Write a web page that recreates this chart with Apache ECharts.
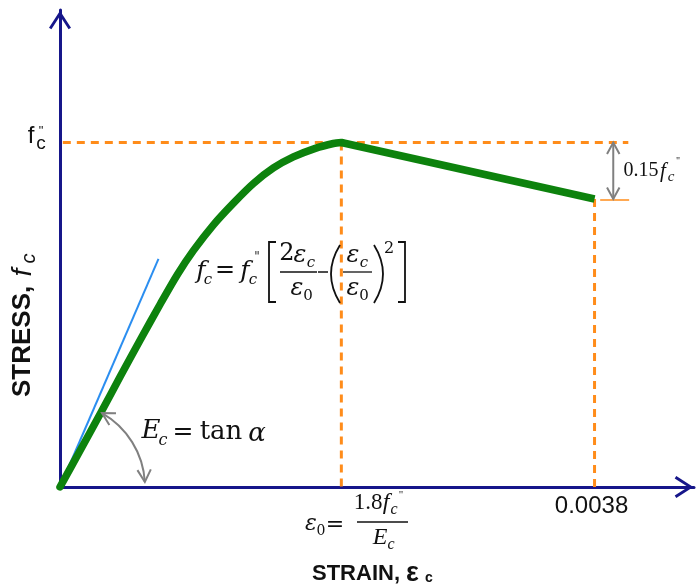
<!DOCTYPE html>
<html><head><meta charset="utf-8">
<script src="https://cdn.jsdelivr.net/npm/echarts@6/dist/echarts.min.js"></script>
<style>html,body{margin:0;padding:0;background:#fff}#c{width:696px;height:585px}</style>
</head><body><div id="c"></div>
<script>
// ---- data (strain, stress as fraction of f"c) ----
const riseStrain = [0, 0.000146, 0.000288, 0.000430, 0.000572, 0.000714, 0.000835, 0.000948, 0.001091, 0.001233, 0.001375, 0.001517, 0.001659, 0.001815, 0.001943, 0.002];
const riseStress = [0, 0.108, 0.214, 0.322, 0.428, 0.532, 0.617, 0.686, 0.761, 0.824, 0.881, 0.926, 0.958, 0.983, 0.997, 1.0];
const fallStrain = [0.002, 0.0038];
const fallStress = [1.0, 0.836];
const tangentStrain = [0, 0.0007];
const tangentStress = [0, 0.662];
const eps0 = 0.002;
const epsU = 0.0038;
const fcPeak = 1.0;
const fcEnd = 0.836;
const xMax = 0.004507;
const yMax = 1.3846;
const xTickLabels = ['0.0038'];

const NAVY = '#16168a', GREEN = '#0d820d', ORANGE = '#ff8c1a', GRAY = '#808080', BLUE = '#2b8ef0', INK = '#111';
const chev = 'path://M11,0 L22,17 L19.6,18.6 L11,5.2 L2.4,18.6 L0,17 Z';
const pairs = (xs, ys) => xs.map((x, i) => [x, ys[i]]);

const chart = echarts.init(document.getElementById('c'), null, {renderer: 'canvas'});
const axisCommon = {
  axisLine: {show: true, onZero: false, symbol: ['none', chev], symbolSize: [22, 20], symbolOffset: [0, -10],
             lineStyle: {color: NAVY, width: 3}},
  axisTick: {show: false}, axisLabel: {show: false}, splitLine: {show: false}
};
const dash = (data) => ({type: 'line', data, symbol: 'none', silent: true, z: 1,
  lineStyle: {color: ORANGE, width: 3, type: [8, 6]}});
chart.setOption({
  animation: false,
  backgroundColor: '#fff',
  grid: {left: 60, right: 2, top: 10, bottom: 98},
  xAxis: Object.assign({type: 'value', min: 0, max: xMax}, axisCommon),
  yAxis: Object.assign({type: 'value', min: 0, max: yMax}, axisCommon),
  series: [
    dash([[0.00002, fcPeak], [0.00404, fcPeak]]),
    dash([[eps0, fcPeak], [eps0, 0]]),
    dash([[epsU, fcEnd], [epsU, 0]]),
    {type: 'line', data: [[0.00384, fcEnd - 0.003], [0.004046, fcEnd - 0.003]], symbol: 'none', z: 1,
     lineStyle: {color: ORANGE, width: 1.5}},
    {type: 'line', data: pairs(tangentStrain, tangentStress), symbol: 'none', z: 2,
     lineStyle: {color: BLUE, width: 2}},
    {type: 'line', data: pairs(riseStrain, riseStress), symbol: 'none', smooth: 0.3, z: 3,
     lineStyle: {color: GREEN, width: 7.5, cap: 'round', join: 'round'}},
    {type: 'line', data: pairs(fallStrain, fallStress), symbol: 'none', z: 3,
     lineStyle: {color: GREEN, width: 7.5, cap: 'butt', join: 'round'}}
  ]
});

const P = (x, y) => chart.convertToPixel({gridIndex: 0}, [x, y]);
const SERIF = '"DejaVu Serif", serif';
const TIMES = '"Liberation Serif", serif';
const SANS = '"Liberation Sans", Arial, sans-serif';
const mctx = document.createElement('canvas').getContext('2d');
const W = (text, font) => { mctx.font = font; return mctx.measureText(text).width; };
function T(x, y, text, font, extra) {
  return {type: 'text', x, y, silent: true, z: 100,
    style: Object.assign({text, font, fill: INK, align: 'center', verticalAlign: 'middle'}, extra || {})};
}
function L(points, w, color) {
  return {type: 'polyline', silent: true, z: 100, shape: {points},
    style: {stroke: color || INK, lineWidth: w || 1.5, fill: null}};
}
function Q(x1, y1, cx, cy, x2, y2) {
  return {type: 'bezierCurve', silent: true, z: 100, shape: {x1, y1, x2, y2, cpx1: cx, cpy1: cy},
    style: {stroke: INK, lineWidth: 1.8, fill: null}};
}
function arrowHead(tip, dir, len, spread, color) {
  const a = Math.atan2(dir[1], dir[0]);
  const w1 = [tip[0] - len * Math.cos(a - spread), tip[1] - len * Math.sin(a - spread)];
  const w2 = [tip[0] - len * Math.cos(a + spread), tip[1] - len * Math.sin(a + spread)];
  return L([w1, tip, w2], 2, color);
}

const g = [];
const it = (s, f) => 'italic ' + s + 'px ' + (f || SERIF);
const rm = (s, f) => s + 'px ' + (f || SERIF);

// f"c tick label on stress axis
const pk = P(0, fcPeak);
g.push(T(pk[0] - 29, pk[1] - 6, 'f', '24px ' + SANS));
g.push(T(pk[0] - 19, pk[1] + 1, 'c', '19px ' + SANS));
g.push(T(pk[0] - 19, pk[1] - 11, '"', '13px ' + SANS));

// 0.0038 tick label on strain axis
const eu = P(epsU, 0);
g.push(T(eu[0] - 3, eu[1] + 19, xTickLabels[0], '24px ' + SANS));

// axis titles
const fS1 = 'bold 22px ' + SANS, fS2 = 'bold 27px ' + SANS;
const wS1 = W('STRAIN, ', fS1), wE = W('ε', fS2);
g.push({type: 'group', x: 312, y: 574, silent: true, children: [
  T(0, 0, 'STRAIN, ', fS1, {align: 'left'}),
  T(wS1, 0, 'ε', fS2, {align: 'left'}),
  T(wS1 + wE + 6, 4, 'c', 'bold 14px ' + SANS, {align: 'left'})
]});
const fR1 = 'bold 26px ' + SANS;
const wR1 = W('STRESS, ', fR1);
g.push({type: 'group', x: 23, y: 397, rotation: Math.PI / 2, silent: true, children: [
  T(0, 0, 'STRESS, ', fR1, {align: 'left'}),
  T(wR1 + 2, 0, 'f', 'italic 28px ' + SANS, {align: 'left'}),
  T(wR1 + 15, 6, 'c', 'italic 20px ' + SANS, {align: 'left'})
]});

// formula: fc = f"c [ 2εc/ε0 − (εc/ε0)^2 ]
g.push(T(201, 271, 'f', it(25)), T(208, 280, 'c', it(15)), T(225, 271, '=', rm(24)),
       T(245, 271, 'f', it(25)), T(253, 280, 'c', it(15)), T(257, 258, '"', rm(12)));
g.push(L([[276, 242], [269, 242], [269, 302], [276, 302]], 1.8));
g.push(T(287, 254, '2', rm(24)), T(300, 256, 'ε', it(24)), T(311, 263, 'c', it(15)));
g.push(L([[280, 272], [317, 272]], 1.3));
g.push(T(297, 289, 'ε', it(24)), T(308, 296, '0', rm(15)));
g.push(L([[318, 272], [328, 272]], 1.5));
g.push(Q(340, 245, 322, 274, 340, 303), Q(374, 245, 392, 274, 374, 303));
g.push(T(353, 256, 'ε', it(24)), T(364, 263, 'c', it(15)));
g.push(L([[343, 272], [372, 272]], 1.3));
g.push(T(353, 289, 'ε', it(24)), T(364, 296, '0', rm(15)));
g.push(T(389, 249, '2', rm(16)));
g.push(L([[398, 242], [405, 242], [405, 302], [398, 302]], 1.8));

// formula: Ec = tan α
g.push(T(151, 431, 'E', it(26)), T(163, 441, 'c', it(16)), T(183, 432, '=', rm(25)),
       T(221, 432, 'tan', rm(26)), T(257, 434, 'α', it(26)));

// formula: ε0 = 1.8 f"c / Ec
g.push(T(311, 524, 'ε', it(22)), T(321, 531, '0', rm(14)), T(335, 525, '=', rm(22)),
       T(368, 503, '1.8', rm(23, TIMES)), T(386, 503, 'f', it(24, TIMES)), T(394, 510, 'c', it(16, TIMES)),
       T(401, 495, '"', rm(11, TIMES)));
g.push(L([[357, 522], [408, 522]], 1.3));
g.push(T(380, 538, 'E', it(24, TIMES)), T(391, 545, 'c', it(16, TIMES)));

// 0.15 f"c
g.push(T(641, 171, '0.15', rm(20, TIMES)), T(663, 171, 'f', it(21, TIMES)), T(671, 177, 'c', it(15, TIMES)),
       T(678, 161, '"', rm(10, TIMES)));

// gray double arrow between f"c and end stress
const aTop = P(0.003933, fcPeak), aBot = P(0.003933, fcEnd);
g.push(L([aTop, aBot], 2, GRAY));
g.push(arrowHead(aTop, [0, -1], 13, 0.5, GRAY), arrowHead(aBot, [0, 1], 13, 0.5, GRAY));

// angle arc alpha
const O = P(0, 0), R = 85, th1 = -1.054, th2 = -0.059;
g.push({type: 'arc', silent: true, z: 100, shape: {cx: O[0], cy: O[1], r: R, startAngle: th1, endAngle: th2, clockwise: true},
  style: {stroke: GRAY, lineWidth: 2, fill: null}});
const t1 = [O[0] + R * Math.cos(th1), O[1] + R * Math.sin(th1)];
const t2 = [O[0] + R * Math.cos(th2), O[1] + R * Math.sin(th2)];
g.push(arrowHead(t1, [Math.sin(th1), -Math.cos(th1)], 14, 0.5, GRAY));
g.push(arrowHead(t2, [-Math.sin(th2), Math.cos(th2)], 14, 0.5, GRAY));

chart.setOption({graphic: g});
</script></body></html>
